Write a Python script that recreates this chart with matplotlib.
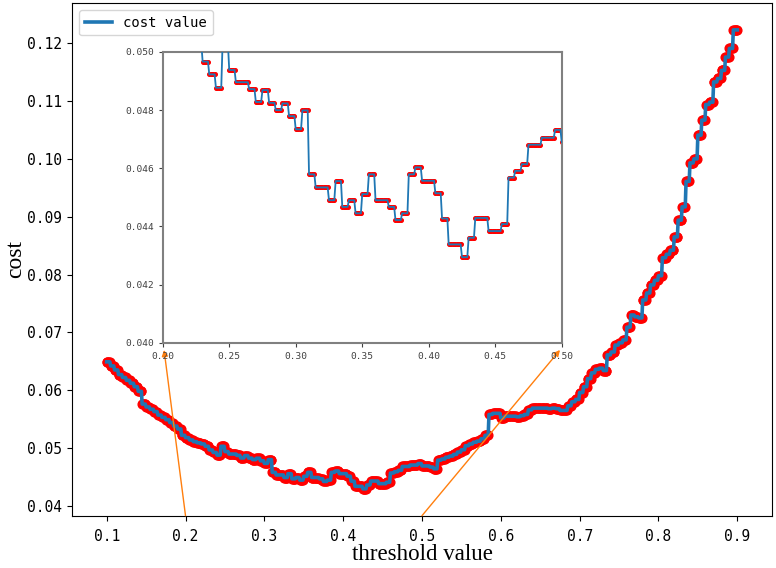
import numpy as np
import matplotlib
matplotlib.use("Agg")
import matplotlib.pyplot as plt

# threshold grid (step 0.001) and the cost, one value per 0.005 block
thresholds = np.round(np.linspace(0.1, 0.9, 801), 3)
block_cost = [
    # 0.100 - 0.195
    0.0649, 0.0642, 0.0635, 0.0627, 0.0622, 0.0617, 0.0612, 0.0606, 0.0598, 0.0576,
    0.0571, 0.0567, 0.0563, 0.0557, 0.0553, 0.0549, 0.0544, 0.0538, 0.0533, 0.0522,
    # 0.200 - 0.295
    0.0518, 0.0514, 0.0511, 0.0509, 0.0507, 0.0503, 0.04967, 0.04923, 0.04877, 0.0503,
    0.04938, 0.04896, 0.04896, 0.04872, 0.04828, 0.04869, 0.04825, 0.04800, 0.04823, 0.04779,
    # 0.300 - 0.395
    0.04734, 0.04799, 0.04579, 0.04534, 0.04534, 0.04490, 0.04556, 0.04467, 0.04490, 0.04445,
    0.04511, 0.04579, 0.04490, 0.04490, 0.04467, 0.04422, 0.04445, 0.04579, 0.04603, 0.04557,
    # 0.400 - 0.495
    0.04557, 0.04514, 0.04427, 0.04338, 0.04338, 0.04294, 0.04361, 0.04429, 0.04429, 0.04384,
    0.04384, 0.04408, 0.04568, 0.04591, 0.04614, 0.04681, 0.04681, 0.04705, 0.04705, 0.04732,
    # 0.500 - 0.595
    0.0469, 0.0469, 0.0467, 0.0464, 0.0479, 0.0481, 0.0484, 0.0486, 0.0489, 0.0493,
    0.0497, 0.0504, 0.0507, 0.0510, 0.0512, 0.0516, 0.0522, 0.0558, 0.0560, 0.0560,
    # 0.600 - 0.695
    0.0552, 0.0555, 0.0555, 0.0555, 0.0554, 0.0556, 0.0558, 0.0566, 0.0569, 0.0569,
    0.0569, 0.0569, 0.0568, 0.0569, 0.0568, 0.0565, 0.0565, 0.0573, 0.0580, 0.0584,
    # 0.700 - 0.795
    0.0596, 0.0606, 0.0620, 0.0630, 0.0636, 0.0638, 0.0634, 0.0661, 0.0666, 0.0678,
    0.0682, 0.0687, 0.0709, 0.0730, 0.0727, 0.0725, 0.0756, 0.0768, 0.0782, 0.0790,
    # 0.800 - 0.895
    0.0798, 0.0829, 0.0835, 0.0842, 0.0865, 0.0894, 0.0917, 0.0961, 0.0993, 0.1000,
    0.1041, 0.1067, 0.1094, 0.1098, 0.1133, 0.1139, 0.1153, 0.1176, 0.1191, 0.1223,
    # 0.900
    0.1223,
]
cost = np.repeat(block_cost, 5)[:len(thresholds)]

x_ticks = [0.1, 0.2, 0.3, 0.4, 0.5, 0.6, 0.7, 0.8, 0.9]
y_ticks = [0.04, 0.05, 0.06, 0.07, 0.08, 0.09, 0.10, 0.11, 0.12]
inset_x_ticks = [0.20, 0.25, 0.30, 0.35, 0.40, 0.45, 0.50]
inset_y_ticks = [0.040, 0.042, 0.044, 0.046, 0.048, 0.050]

plt.rcParams["font.family"] = "DejaVu Sans Mono"
serif = "Liberation Serif"

fig = plt.figure(figsize=(7.76, 5.68), dpi=100)
ax = fig.add_axes([0.0928, 0.0921, 0.9020, 0.9021])

# red points underneath, blue line on top
ax.plot(thresholds, cost, "o", color="red", ms=6.3, zorder=2)
ax.plot(thresholds, cost, color="tab:blue", lw=2.6, label="cost value", zorder=3)
ax.set_xlim(0.056, 0.944)
ax.set_ylim(0.0383, 0.1269)
ax.set_xticks(x_ticks)
ax.set_yticks(y_ticks)
ax.set_xticklabels([f"{v:.1f}" for v in x_ticks])
ax.set_yticklabels([f"{v:.2f}" for v in y_ticks])
ax.tick_params(labelsize=10.5)
ax.tick_params(axis="x", pad=6)
ax.set_xlabel("threshold value", family=serif, fontsize=16.5, labelpad=0)
ax.set_ylabel("cost", family=serif, fontsize=17, labelpad=1)
ax.legend(loc="upper left", fontsize=10)

# zoomed-in view of 0.2 - 0.5
axins = fig.add_axes([0.2097, 0.3967, 0.5142, 0.5118])
axins.plot(thresholds, cost, "o", color="red", ms=2.6, zorder=2)
axins.plot(thresholds, cost, color="tab:blue", lw=1.3, zorder=3)
axins.set_xlim(0.2, 0.5)
axins.set_ylim(0.040, 0.050)
axins.set_xticks(inset_x_ticks)
axins.set_yticks(inset_y_ticks)
axins.set_xticklabels([f"{v:.2f}" for v in inset_x_ticks])
axins.set_yticklabels([f"{v:.3f}" for v in inset_y_ticks])
axins.tick_params(labelsize=6.8, length=3, colors="0.25")
for s in axins.spines.values():
    s.set_color("0.5")
    s.set_linewidth(1.5)

# arrows from the zoom range on the main axis up to the inset
for x0, x1 in [(0.2, 0.201), (0.5, 0.4987)]:
    ax.annotate("", xy=(x1, 0.03975), xycoords=axins.transData,
                xytext=(x0, 0), textcoords=ax.get_xaxis_transform(),
                arrowprops=dict(arrowstyle="-|>", color="tab:orange", lw=1.0,
                                shrinkA=0, shrinkB=0, mutation_scale=9))

fig.savefig("out.png", dpi=100)
